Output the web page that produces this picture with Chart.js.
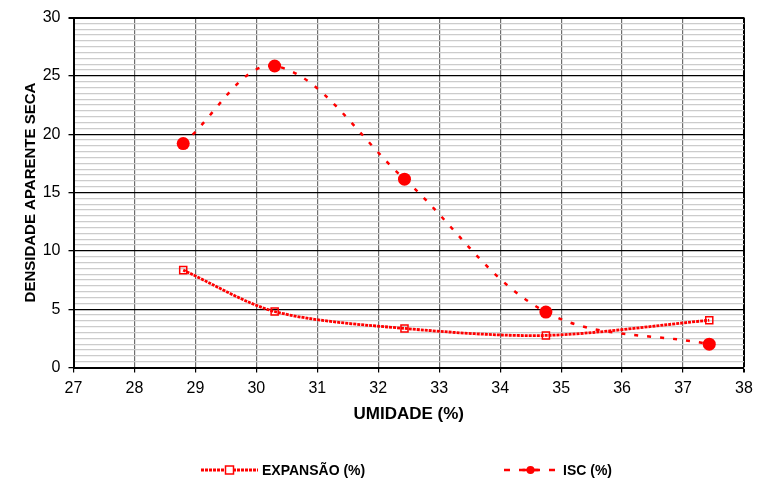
<!DOCTYPE html>
<html>
<head>
<meta charset="utf-8">
<script src="https://cdn.jsdelivr.net/npm/chart.js@4"></script>
<style>
  html, body { margin:0; padding:0; background:#fff; }
  #wrap { width:759px; height:481px; }
</style>
</head>
<body>
<div id="wrap"><canvas id="chart" width="759" height="481"></canvas></div>
<script>
// ---- Data ----
const expUmidade = [28.8, 30.3, 32.43, 34.75, 37.43];
const expValues  = [8.35, 4.8, 3.35, 2.75, 4.05];
const iscUmidade = [28.8, 30.3, 32.43, 34.75, 37.43];
const iscValues  = [19.2, 25.85, 16.15, 4.75, 2.0];
const seriesNames = ['EXPANSÃO (%)', 'ISC (%)'];
const xTitle = 'UMIDADE (%)';
const yTitle = 'DENSIDADE APARENTE SECA';

const RED = '#ff0000';
const FONT = '"Liberation Sans", Arial, sans-serif';
const toPts = (xs, ys) => xs.map((x, i) => ({ x, y: ys[i] }));

// legend drawn by hand (line sample + marker, wide spacing like the original)
const bottomLegend = {
  id: 'bottomLegend',
  afterDraw(chart){
    const ctx = chart.ctx;
    const y = 470;
    const items = [
      { x0: 201, x1: 258, tx: 262, ds: chart.data.datasets[0] },
      { x0: 503, x1: 558, tx: 563, ds: chart.data.datasets[1] }
    ];
    ctx.save();
    items.forEach((it, i) => {
      ctx.strokeStyle = RED;
      ctx.lineWidth = it.ds.borderWidth;
      ctx.setLineDash(i === 0 ? it.ds.borderDash : [6, 9]);
      ctx.lineDashOffset = i === 0 ? 0 : -1;
      ctx.beginPath(); ctx.moveTo(it.x0, y); ctx.lineTo(it.x1, y); ctx.stroke();
      ctx.setLineDash([]);
      const mx = (it.x0 + it.x1) / 2;
      if (i === 0) {
        ctx.fillStyle = '#fff'; ctx.lineWidth = 1.5;
        ctx.fillRect(mx - 4, y - 4, 8, 8); ctx.strokeRect(mx - 4, y - 4, 8, 8);
      } else {
        ctx.fillStyle = RED;
        ctx.beginPath(); ctx.arc(mx, y, 4, 0, Math.PI * 2); ctx.fill();
        ctx.lineWidth = 2.5;
        ctx.beginPath(); ctx.moveTo(mx - 8, y); ctx.lineTo(mx + 8, y); ctx.stroke();
      }
      ctx.fillStyle = '#000';
      ctx.font = 'bold 14px ' + FONT;
      ctx.textBaseline = 'middle';
      ctx.textAlign = 'left';
      ctx.fillText(seriesNames[i], it.tx, y + 1);
    });
    ctx.restore();
  }
};

new Chart(document.getElementById('chart'), {
  type: 'scatter',
  data: {
    datasets: [
      {
        label: seriesNames[0],
        data: toPts(expUmidade, expValues),
        showLine: true,
        borderColor: RED,
        borderWidth: 2.8,
        borderDash: [3, 1],
        tension: 0.3,
        pointStyle: 'rect',
        pointRadius: 5,
        pointBorderWidth: 1.5,
        pointBorderColor: RED,
        pointBackgroundColor: 'rgba(255,255,255,0)'
      },
      {
        label: seriesNames[1],
        data: toPts(iscUmidade, iscValues),
        showLine: true,
        borderColor: RED,
        borderWidth: 2.5,
        borderDash: [4, 9],
        tension: 0.35,
        pointStyle: 'circle',
        pointRadius: 6.5,
        pointBorderWidth: 0,
        pointBackgroundColor: RED
      }
    ]
  },
  options: {
    responsive: false,
    animation: false,
    layout: { padding: { left: 0, right: 15, top: 17, bottom: 55 } },
    plugins: { legend: { display: false }, tooltip: { enabled: false } },
    scales: {
      x: {
        type: 'linear', min: 27, max: 38,
        afterFit: (s) => { s.height = 58.5; },
        ticks: { stepSize: 1, color: '#000', font: { family: FONT, size: 16 }, padding: 6 },
        grid: {
          color: (c) => c.tick && c.tick.value === 38 ? '#000' : '#6e6e6e',
          lineWidth: (c) => c.tick && c.tick.value === 38 ? 2 : 1.2,
          tickColor: '#000', tickLength: 5
        },
        border: { color: '#000', width: 2 },
        title: { display: true, text: xTitle, color: '#000', font: { family: FONT, size: 17, weight: 'bold' }, padding: { top: 0, bottom: 1 } }
      },
      y: {
        min: 0, max: 30,
        afterFit: (s) => { s.width = 73.5; },
        ticks: {
          stepSize: 0.5, autoSkip: false, color: '#000',
          font: { family: FONT, size: 16 }, padding: 8,
          callback: (v) => (v % 5 === 0 ? v : '')
        },
        grid: {
          color: (c) => c.tick && c.tick.value % 5 === 0 ? '#000' : '#cccccc',
          lineWidth: (c) => c.tick && c.tick.value === 30 ? 2 : (c.tick && c.tick.value % 5 === 0 ? 1.3 : 1.2),
          tickColor: (c) => c.tick && c.tick.value % 5 === 0 ? '#000' : 'rgba(0,0,0,0)',
          tickLength: 5
        },
        border: { color: '#000', width: 2 },
        title: { display: true, text: yTitle, color: '#000', font: { family: FONT, size: 15, weight: 'bold' }, padding: { top: 22, bottom: 0 } }
      }
    }
  },
  plugins: [bottomLegend]
});
</script>
</body>
</html>
